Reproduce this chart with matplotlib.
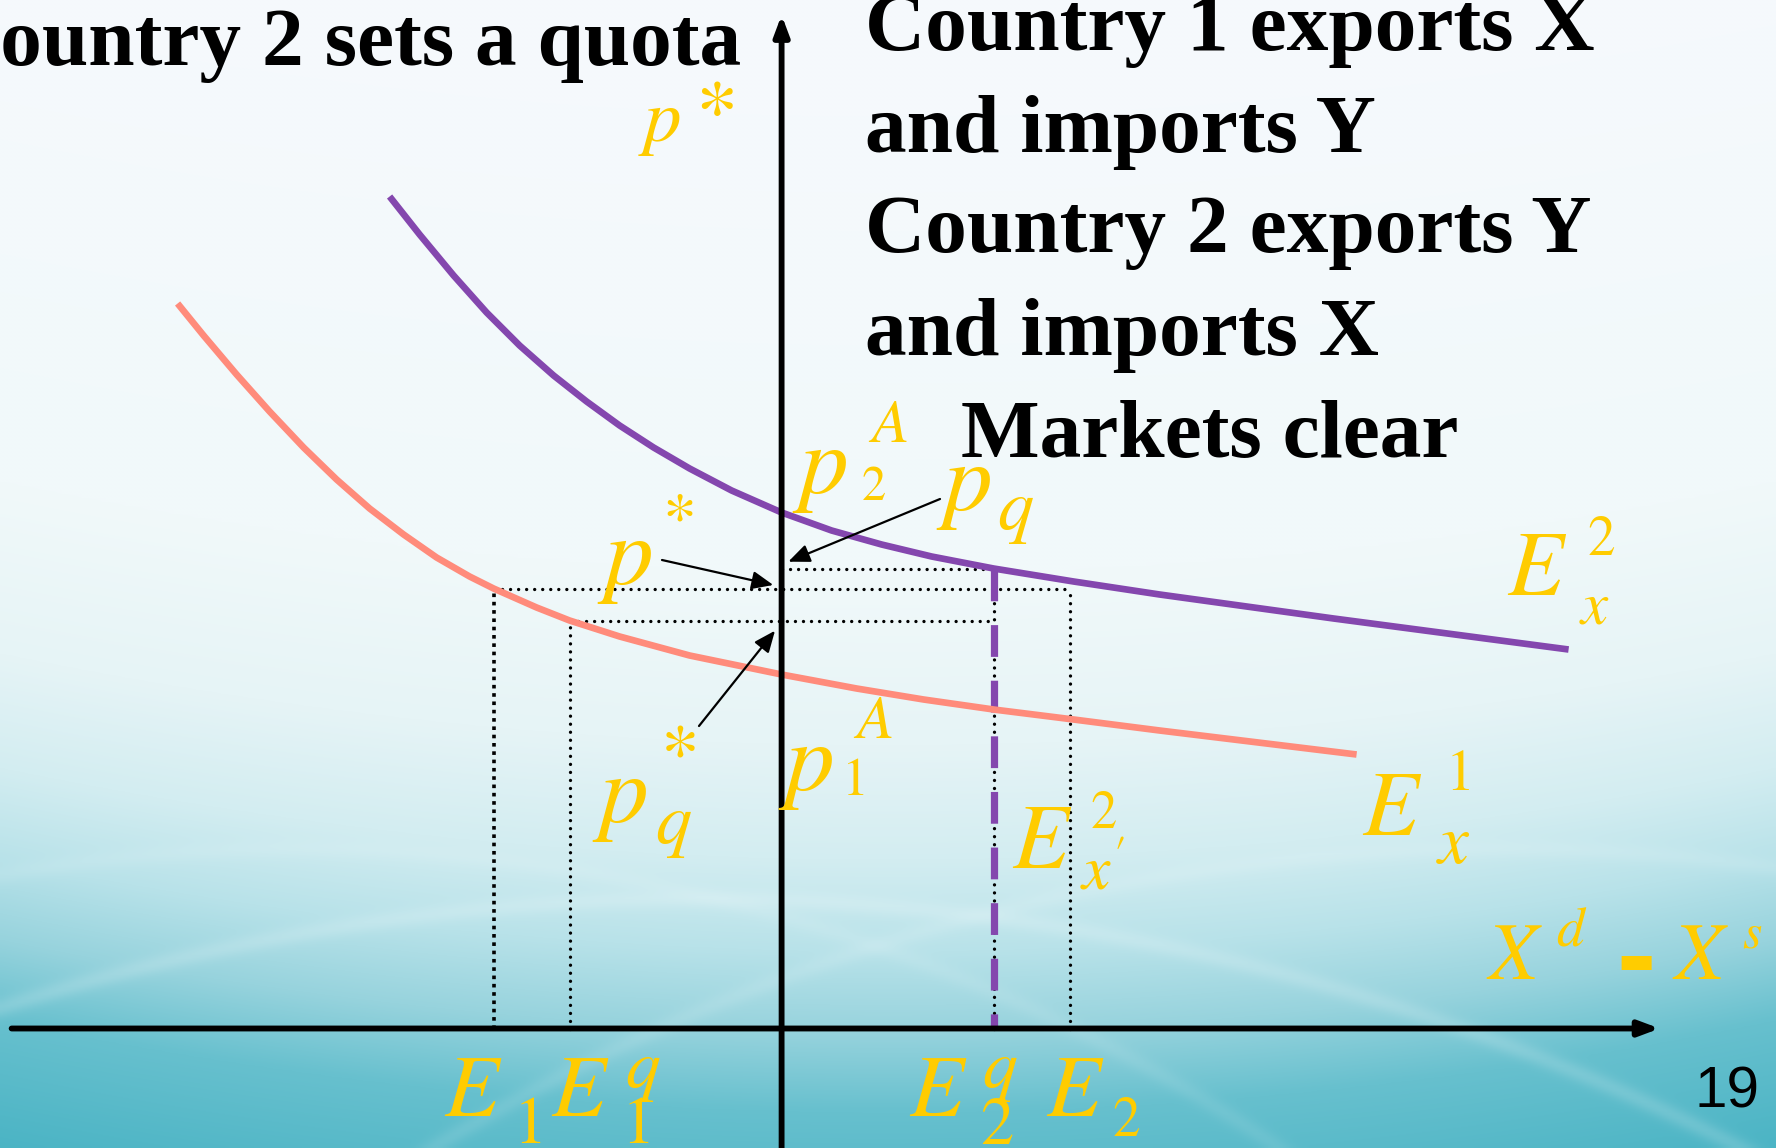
import numpy as np
import matplotlib.pyplot as plt

W, H = 1776, 1148

# excess demand for X: country 1 (salmon) and country 2 (purple)
e1_x = [-6.04, -5.78, -5.45, -5.12, -4.78, -4.45, -4.12, -3.78, -3.45, -3.12, -2.88, -2.45,
        -2.12, -1.62, -0.92, 0.0, 0.75, 1.42, 2.12, 2.92, 3.78, 4.52, 5.75]
e1_p = [7.25, 6.93, 6.54, 6.17, 5.81, 5.49, 5.20, 4.94, 4.71, 4.52, 4.40, 4.21,
        4.08, 3.92, 3.73, 3.54, 3.40, 3.29, 3.19, 3.09, 2.98, 2.89, 2.74]
e2_x = [-3.92, -3.62, -3.28, -2.95, -2.62, -2.28, -1.95, -1.62, -1.28, -0.92, -0.5, 0.0,
        0.5, 1.0, 1.5, 2.12, 2.92, 3.78, 5.52, 7.87]
e2_p = [8.32, 7.94, 7.53, 7.16, 6.83, 6.53, 6.27, 6.03, 5.81, 5.60, 5.38, 5.16,
        4.98, 4.84, 4.72, 4.60, 4.47, 4.34, 4.10, 3.79]

# world prices (free trade, with quota) and traded quantities
p_star = 4.40
p_star_q = 4.08
p_q = 4.60
E1, E1q = -2.88, -2.12
E2q, E2 = 2.12, 2.88

GOLD = '#FFCC00'
PURPLE = '#8447AE'
SALMON = '#FF8B7B'

plt.rcParams['mathtext.fontset'] = 'stix'

fig = plt.figure(figsize=(W / 100, H / 100), dpi=100)
ax = fig.add_axes([0, 0, 1, 1])
xlim = (-7.816, 9.944)
ylim = (-1.195, 10.285)

# slide background: pale on top, teal towards the bottom
yy, xx = np.mgrid[0:1:287j, 0:1:444j]
t = yy + 0.08 * (2 * xx - 1) ** 2
stops = [0.0, 0.50, 0.65, 0.75, 0.83, 0.90, 0.97, 1.10]
cols = np.array([[246, 249, 253], [241, 249, 250], [230, 244, 246], [211, 237, 241],
                 [184, 226, 233], [151, 211, 221], [103, 192, 206], [70, 178, 195]]) / 255
bg = np.dstack([np.interp(t, stops, cols[:, i]) for i in range(3)])
px, py = xx * W, yy * H
for cx, cy, r, a in [(700, 3200, 2300, 0.16), (1500, 2900, 2050, 0.11), (300, 2600, 1750, 0.09)]:
    d = np.hypot(px - cx, py - cy) - r
    glow = a * np.exp(-(d / 9) ** 2) * (yy > 0.6)
    bg = bg + (1 - bg) * glow[..., None]
ax.imshow(bg, extent=[*xlim, *ylim], aspect='auto', interpolation='bilinear', zorder=0)

ax.set_xlim(xlim)
ax.set_ylim(ylim)
ax.axis('off')

dot = dict(color='black', lw=2.4, ls=(0, (0.01, 2.4)), dash_capstyle='round', zorder=3)
ax.plot([E1, E2], [p_star, p_star], **dot)
ax.plot([E1, E1], [0, p_star], color='black', lw=2.6, ls=(0, (1, 1.3)), zorder=3)
ax.plot([E2, E2], [0, p_star], **dot)
ax.plot([E1q, E2q], [p_star_q, p_star_q], **dot)
ax.plot([E1q, E1q], [0, p_star_q], **dot)
ax.plot([0, E2q], [p_q, p_q], **dot)
ax.plot([E2q, E2q], [0, p_q], **dot)

# country 2's quota-restricted excess demand
ax.plot([E2q, E2q], [p_q, 0], color=PURPLE, lw=5.2, ls=(0, (4.4, 3.3)), dash_capstyle='butt', zorder=4)

ax.plot(e1_x, e1_p, color=SALMON, lw=4.8, solid_capstyle='butt', solid_joinstyle='round', zorder=5)
ax.plot(e2_x, e2_p, color=PURPLE, lw=4.8, solid_capstyle='butt', solid_joinstyle='round', zorder=5)

axis_arrow = dict(arrowstyle='-|>,head_length=1.2,head_width=0.45', color='black', lw=4.2,
                  shrinkA=0, shrinkB=0)
ax.annotate('', xy=(0, 10.135), xytext=(0, ylim[0]), arrowprops=axis_arrow, zorder=6)
ax.annotate('', xy=(8.78, 0), xytext=(-7.70, 0), arrowprops=axis_arrow, zorder=6)

pointer = dict(arrowstyle='-|>,head_length=1.3,head_width=0.55', color='black', lw=1.6,
               shrinkA=0, shrinkB=0)
for tip, tail in [((-0.083, 4.435), (662, 560)),
                  ((0.067, 4.668), (940, 499)),
                  ((-0.066, 3.978), (699, 726))]:
    ax.annotate('', xy=tip, xycoords='data', xytext=(tail[0], H - tail[1]),
                textcoords='figure pixels', arrowprops=pointer, zorder=7)

# slide text
serif = dict(family='Liberation Serif', weight='bold', fontsize=60, color='black')
fig.text(741 / W, 1 - 65 / H, 'Country 2 sets a quota', ha='right', va='baseline', **serif)
for line, x, y in [('Country 1 exports X', 865, 50), ('and imports Y', 865, 152),
                   ('Country 2 exports Y', 865, 252), ('and imports X', 865, 355),
                   ('Markets clear', 961, 457)]:
    fig.text(x / W, 1 - y / H, line, ha='left', va='baseline', **serif)

labels = [
    ('$p$', 660, 121, 54), ('$*$', 714, 114, 61),
    ('$p$', 820, 469, 70), ('$2$', 873, 486, 35), ('$A$', 888, 425, 44),
    ('$p$', 964, 486, 70), ('$q$', 1015, 512, 52),
    ('$p$', 625, 559, 70), ('$*$', 678, 519, 49),
    ('$p$', 620, 798, 70), ('$q$', 673, 825, 52), ('$*$', 678, 754, 56),
    ('$p$', 806, 766, 70), ('$1$', 853, 780, 39), ('$A$', 873, 722, 44),
    ('$E$', 1042, 842, 66), ("$x'$", 1103, 872, 46), ('$2$', 1103, 813, 38),
    ('$E$', 1537, 569, 66), ('$x$', 1594, 607, 44), ('$2$', 1601, 540, 40),
    ('$E$', 1392, 809, 66), ('$x$', 1453, 844, 50), ('$1$', 1457, 774, 42),
    ('$X$', 1515, 957, 58), ('$d$', 1572, 930, 40), ('$X$', 1701, 957, 58), ('$s$', 1752, 933, 36),
    ('$E$', 473, 1092, 64), ('$1$', 527, 1124, 48),
    ('$E$', 580, 1092, 64), ('$q$', 643, 1071, 50), ('$1$', 635, 1124, 48),
    ('$E$', 938, 1092, 64), ('$q$', 1000, 1071, 50), ('$2$', 997, 1125, 48),
    ('$E$', 1075, 1091, 64), ('$2$', 1126, 1121, 40),
]
for s, x, y, size in labels:
    fig.text(x / W, 1 - y / H, s, fontsize=size, color=GOLD, ha='center', va='center')
fig.text(1636 / W, 1 - 964 / H, '-', family='Liberation Sans', weight='bold', fontsize=85,
         color=GOLD, ha='center', va='center')

fig.text(1727 / W, 1 - 1093 / H, '19', family='Liberation Sans', fontsize=42,
         color='black', ha='center', va='center')

fig.savefig('out.png', dpi=100)
